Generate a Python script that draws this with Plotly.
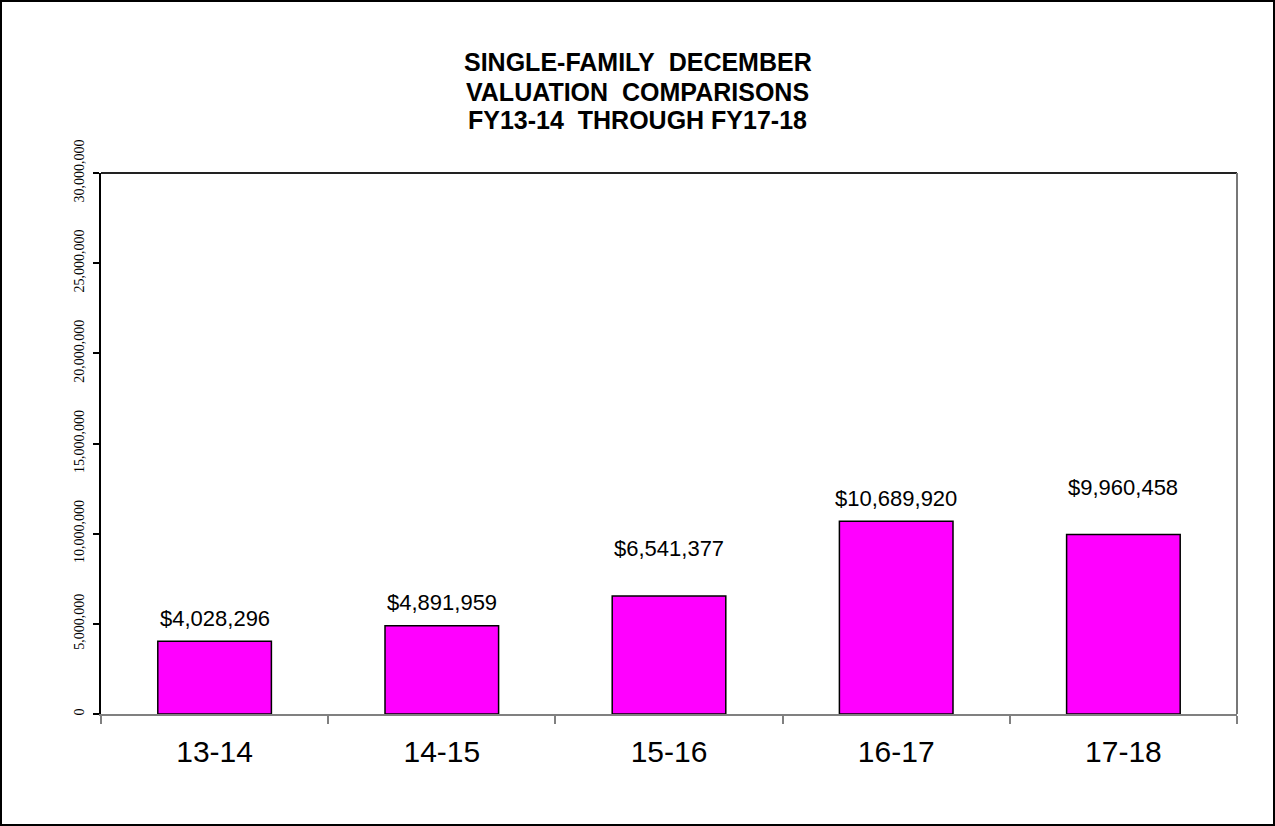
import plotly.graph_objects as go

# ---- data ----
categories = ["13-14", "14-15", "15-16", "16-17", "17-18"]
values = [4028296, 4891959, 6541377, 10689920, 9960458]
value_labels = ["$4,028,296", "$4,891,959", "$6,541,377", "$10,689,920", "$9,960,458"]
title_lines = ["SINGLE-FAMILY  DECEMBER", "VALUATION  COMPARISONS", "FY13-14  THROUGH FY17-18"]
y_ticks = [0, 5000000, 10000000, 15000000, 20000000, 25000000, 30000000]

# ---- layout geometry (pixels) ----
W, H = 1275, 826
L, R, T, B = 101, 1237, 173, 714
PW, PH = R - L, B - T


def px_x(p):
    return (p - L) / PW


def px_y(p):
    return (B - p) / PH


label_shift = [23, 23, 48, 23, 47]
title_y_px = [62, 92, 120]

fig = go.Figure()
fig.add_trace(go.Bar(
    x=categories, y=values, width=0.5,
    marker=dict(color="#FF00FF", line=dict(color="#000000", width=1.5)),
    hoverinfo="skip", showlegend=False,
))

annotations = []
for c, v, t, s in zip(categories, values, value_labels, label_shift):
    annotations.append(dict(
        x=c, y=v, xref="x", yref="y", text=t, showarrow=False,
        yanchor="middle", yshift=s,
        font=dict(family="Liberation Sans, Arial", size=22, color="#000000"),
    ))
for line, yp in zip(title_lines, title_y_px):
    annotations.append(dict(
        x=px_x(W / 2), y=px_y(yp), xref="paper", yref="paper",
        text="<b>" + line.replace("  ", "&nbsp; ") + "</b>", showarrow=False,
        xanchor="center", yanchor="middle",
        font=dict(family="Liberation Sans, Arial", size=25, color="#000000"),
    ))

shapes = [
    # outer border
    dict(type="rect", xref="paper", yref="paper",
         x0=px_x(1), x1=px_x(W - 1), y0=px_y(H - 1), y1=px_y(1),
         line=dict(color="#000000", width=2), layer="above"),
    # plot area top
    dict(type="line", xref="paper", yref="paper", x0=0, x1=1, y0=1, y1=1,
         line=dict(color="#222222", width=2)),
    # plot area right
    dict(type="line", xref="paper", yref="paper", x0=1, x1=1, y0=0, y1=1,
         line=dict(color="#777777", width=2)),
]

fig.update_layout(
    width=W, height=H,
    margin=dict(l=L, r=W - R, t=T, b=H - B, pad=0),
    paper_bgcolor="#FFFFFF", plot_bgcolor="#FFFFFF",
    annotations=annotations, shapes=shapes,
    bargap=0.5,
)
fig.update_xaxes(
    type="category", showline=True, linecolor="#808080", linewidth=2,
    ticks="outside", tickson="boundaries", ticklen=8, tickcolor="#808080", tickwidth=1.5,
    tickfont=dict(family="Liberation Sans, Arial", size=30, color="#000000"),
    ticklabelstandoff=10, showgrid=False, zeroline=False,
)
fig.update_yaxes(
    range=[0, 30000000], tickvals=y_ticks, tickformat=",",
    showline=True, linecolor="#000000", linewidth=2,
    ticks="outside", ticklen=6, tickcolor="#000000", tickwidth=1.5,
    tickangle=-90, ticklabelstandoff=3,
    tickfont=dict(family="Liberation Serif, Times New Roman", size=14, color="#000000"),
    showgrid=False, zeroline=False,
)

fig.write_html("out.html", config={"displayModeBar": False},
               post_script="document.body.style.margin='0px';")
